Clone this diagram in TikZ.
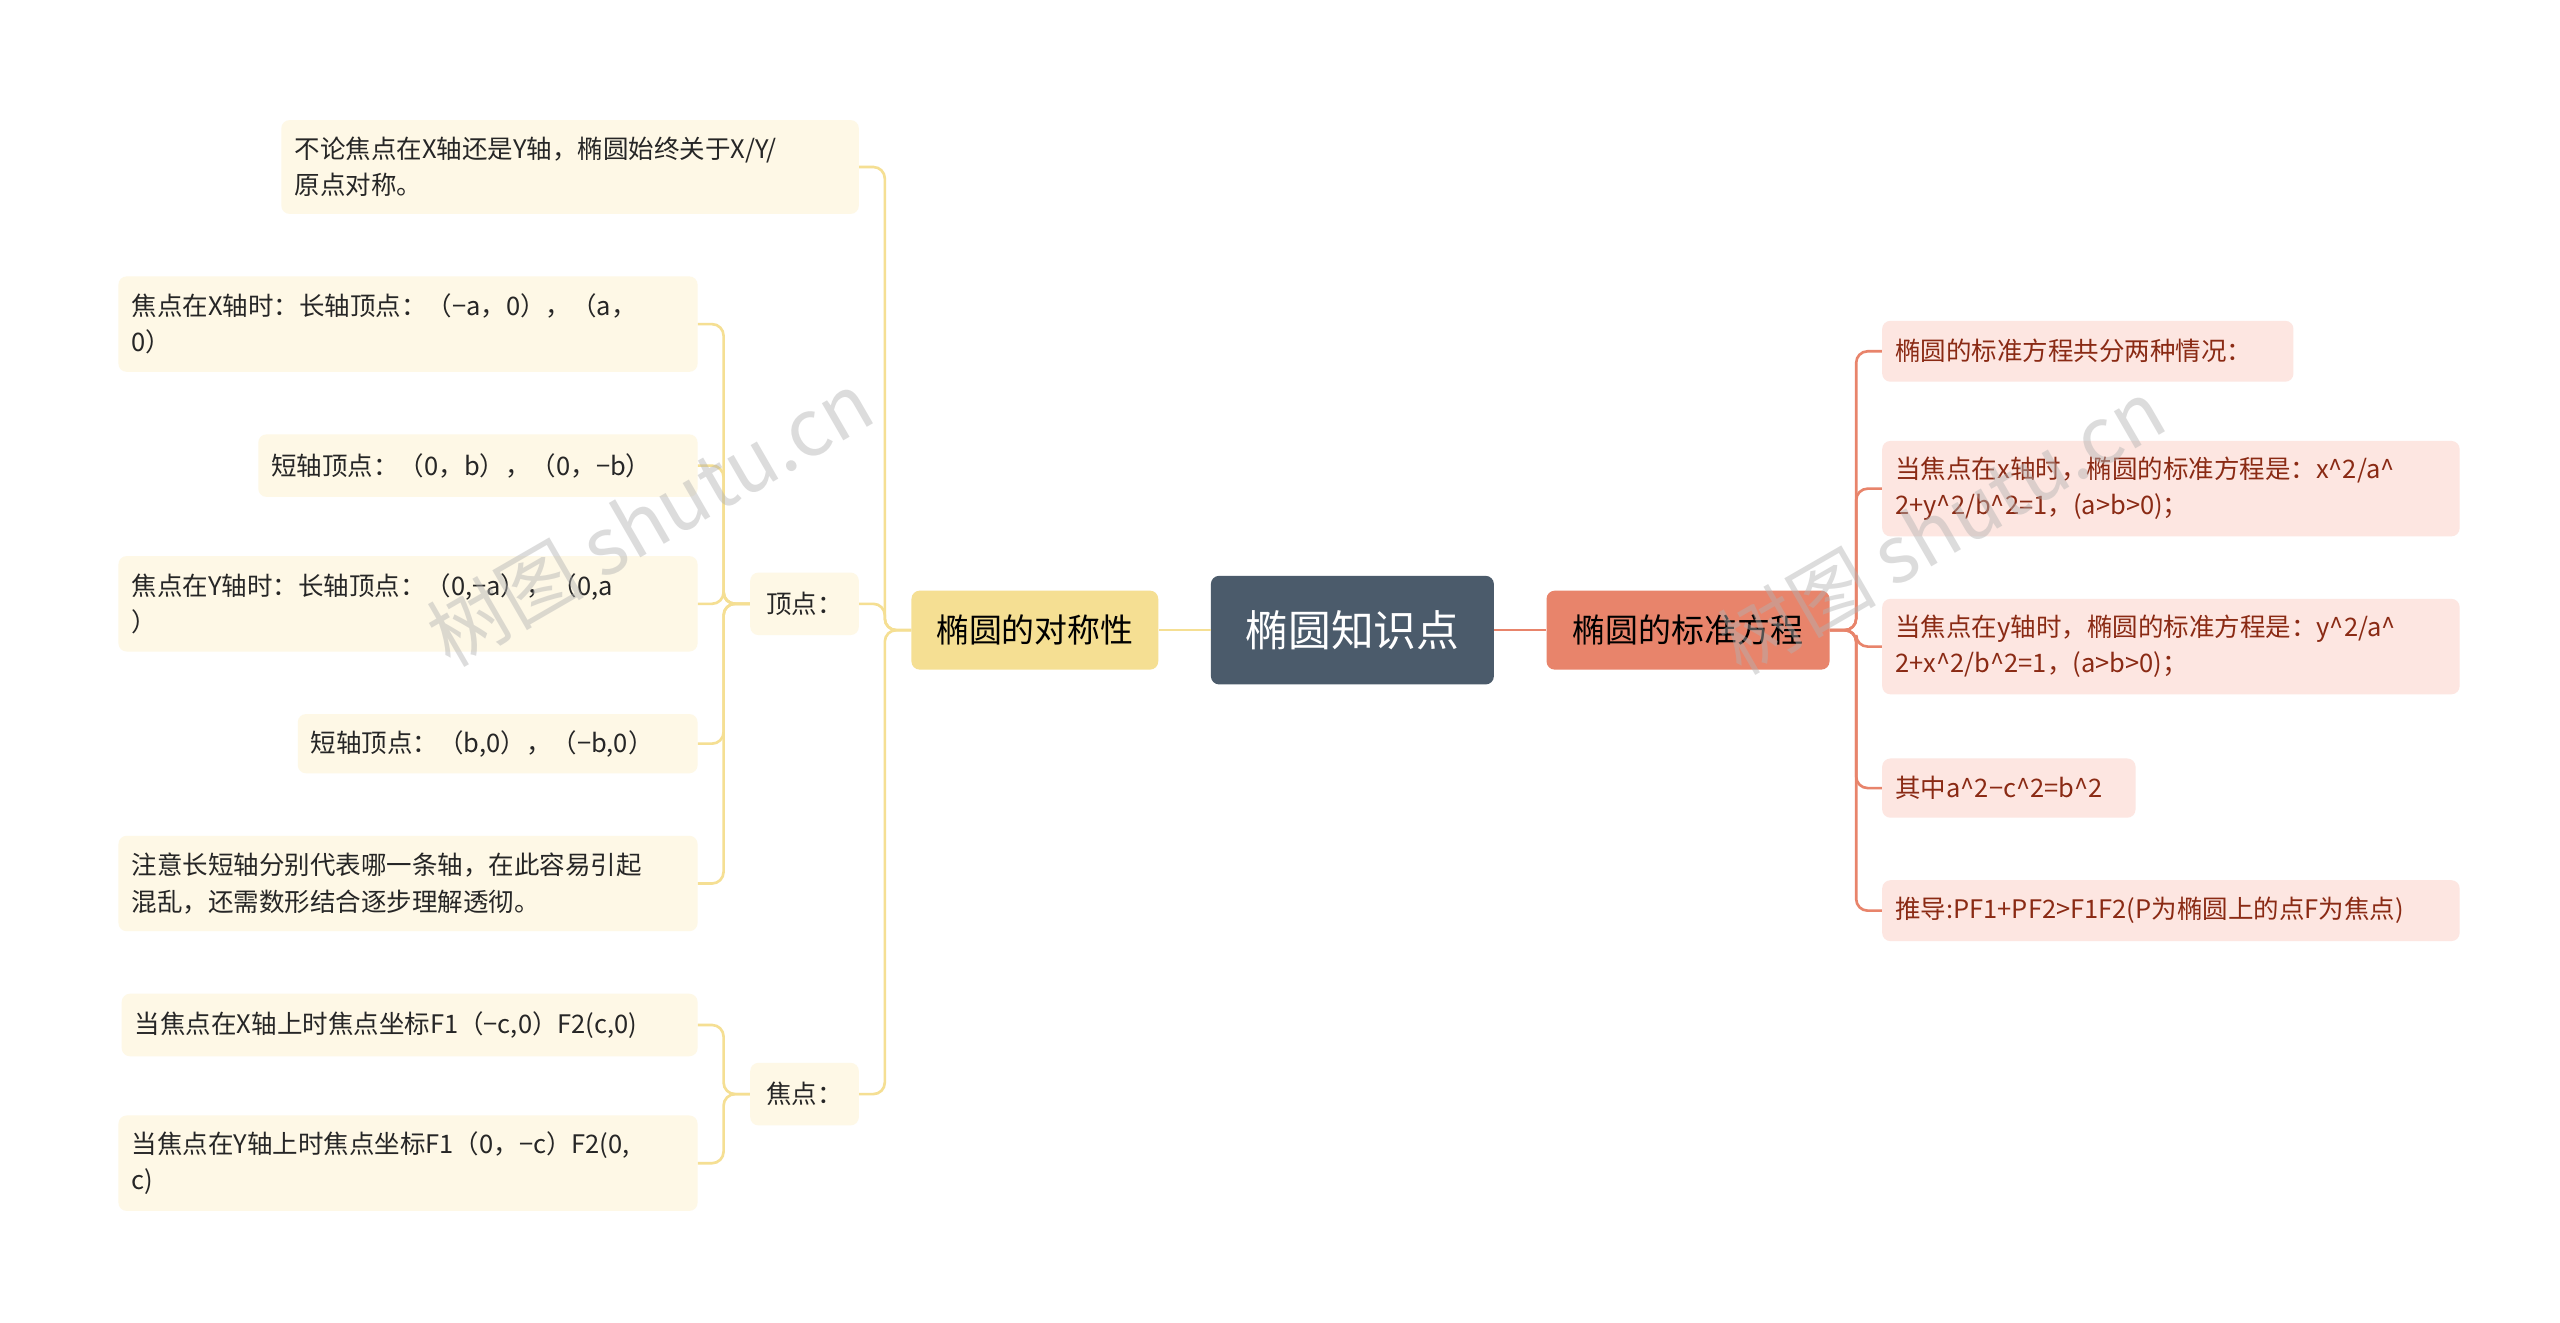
\documentclass[tikz,border=0pt]{standalone}
\usepackage{fontspec}
\setmainfont{Noto Sans CJK SC}
\definecolor{yfill}{HTML}{FEF8E6}
\definecolor{rfill}{HTML}{FDE6E1}
\definecolor{rtext}{HTML}{8A2A14}
\definecolor{yline}{HTML}{F5DF93}
\definecolor{rline}{HTML}{E8846B}
\definecolor{cfill}{HTML}{4B5B6B}
\begin{document}
\begin{tikzpicture}[x=1pt,y=-1pt,
 base/.style={rounded corners=5pt,inner ysep=0pt,inner xsep=8pt,anchor=center,align=left},
 yleaf/.style={base,fill=yfill,font=\fontsize{15.5}{22}\selectfont,text=black!85},
 rleaf/.style={base,fill=rfill,font=\fontsize{15.5}{22}\selectfont,text=rtext},
 yl/.style={draw=yline,line width=1.6pt,rounded corners=7pt},
 rl/.style={draw=rline,line width=1.6pt,rounded corners=7pt}]
\useasboundingbox[fill=white] (0,0) rectangle (1556,804);
% main
\node[base,inner xsep=0pt,fill=cfill,minimum width=172,minimum height=66,text=white,font=\fontsize{26}{30}\selectfont,align=center] (c) at (822,383) {椭圆知识点};
\node[base,inner xsep=0pt,fill=yline,minimum width=150,minimum height=48,font=\fontsize{20}{24}\selectfont,align=center] (L) at (629,383) {椭圆的对称性};
\node[base,inner xsep=0pt,fill=rline,minimum width=172,minimum height=48,font=\fontsize{20}{24}\selectfont,align=center] (R) at (1026,383) {椭圆的标准方程};
% left
\node[yleaf,minimum height=38,text width=50,inner xsep=8pt,align=center] (v) at (489,367) {顶点：};
\node[yleaf,minimum height=38,text width=50,align=center] (f) at (489,665) {焦点：};
\node[yleaf,minimum height=57,text width=335] (t) at (346.5,101.5) {不论焦点在X轴还是Y轴，椭圆始终关于X/Y/\\原点对称。};
\node[yleaf,minimum height=58,text width=336] (v1) at (248,197) {焦点在X轴时：长轴顶点：（−a，0），（a，\\0）};
\node[yleaf,minimum height=38,text width=251] (v2) at (290.5,283) {短轴顶点：（0，b），（0，−b）};
\node[yleaf,minimum height=58,text width=336] (v3) at (248,367) {焦点在Y轴时：长轴顶点：（0,−a），（0,a\\）};
\node[yleaf,minimum height=36,text width=227] (v4) at (302.5,452) {短轴顶点：（b,0），（−b,0）};
\node[yleaf,minimum height=58,text width=336] (v5) at (248,537) {注意长短轴分别代表哪一条轴，在此容易引起\\混乱，还需数形结合逐步理解透彻。};
\node[yleaf,minimum height=38,text width=334] (f1) at (249,623) {当焦点在X轴上时焦点坐标F1（−c,0）F2(c,0)};
\node[yleaf,minimum height=58,text width=336] (f2) at (248,707) {当焦点在Y轴上时焦点坐标F1（0，−c）F2(0,\\c)};
% right
\node[rleaf,minimum height=37,text width=234] (r1) at (1269,213.5) {椭圆的标准方程共分两种情况：};
\node[rleaf,minimum height=58,text width=335] (r2) at (1319.5,297) {当焦点在x轴时，椭圆的标准方程是：x\^{}2/a\^{}\\2+y\^{}2/b\^{}2=1，(a>b>0)；};
\node[rleaf,minimum height=58,text width=335] (r3) at (1319.5,393) {当焦点在y轴时，椭圆的标准方程是：y\^{}2/a\^{}\\2+x\^{}2/b\^{}2=1，(a>b>0)；};
\node[rleaf,minimum height=36,text width=138] (r4) at (1221,479) {其中a\^{}2−c\^{}2=b\^{}2};
\node[rleaf,minimum height=37,text width=335] (r5) at (1319.5,553.5) {推导:PF1+PF2>F1F2(P为椭圆上的点F为焦点)};
% connectors
\draw[yl] (c.west) -- (L.east);
\draw[rl] (c.east) -- (R.west);
\foreach \n in {t,v,f} \draw[yl] (L.west) -- ++(-16,0) |- (\n.east);
\foreach \n in {v1,v2,v3,v4,v5} \draw[yl] (v.west) -- ++(-16,0) |- (\n.east);
\foreach \n in {f1,f2} \draw[yl] (f.west) -- ++(-16,0) |- (\n.east);
\foreach \n in {r1,r2,r3,r4,r5} \draw[rl] (R.east) -- ++(16,0) |- (\n.west);
% watermark
\node[rotate=30,text=black!30,opacity=0.45,font=\fontsize{48}{50}\selectfont] at (395,315) {树图 shutu.cn};
\node[rotate=30,text=black!30,opacity=0.45,font=\fontsize{48}{50}\selectfont] at (1180,320) {树图 shutu.cn};
\end{tikzpicture}
\end{document}
